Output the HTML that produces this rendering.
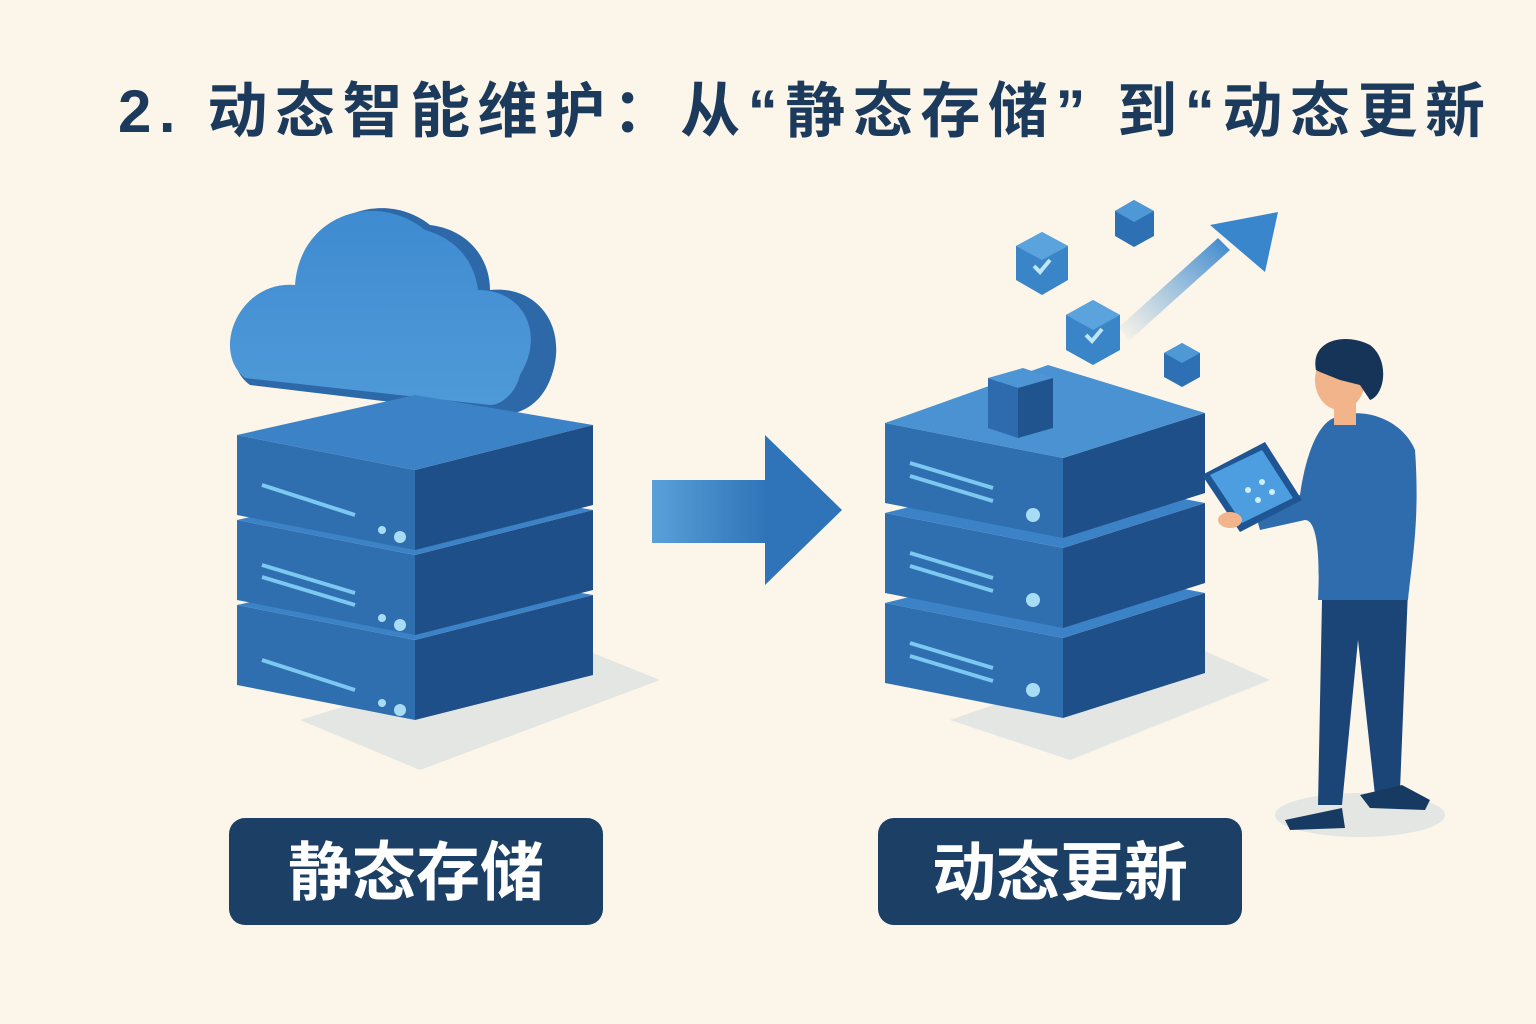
<!DOCTYPE html>
<html><head><meta charset="utf-8"><style>
html,body{margin:0;padding:0;background:#fcf5e9;}
svg{display:block}
text{font-family:"Liberation Sans","Noto Sans CJK SC",sans-serif;}
</style></head><body>
<svg width="1536" height="1024" viewBox="0 0 1536 1024" xmlns="http://www.w3.org/2000/svg">
<defs>
<linearGradient id="ag" x1="0" x2="1"><stop offset="0" stop-color="#5aa0d8"/><stop offset="1" stop-color="#2e74b8"/></linearGradient>
<linearGradient id="ug" x1="0" y1="1" x2="1" y2="0"><stop offset="0" stop-color="#5aa0d8" stop-opacity="0"/><stop offset="1" stop-color="#3a86cc"/></linearGradient>
<linearGradient id="cg" x1="0" y1="0" x2="0" y2="1"><stop offset="0" stop-color="#3f8bd0"/><stop offset="1" stop-color="#4e9ad8"/></linearGradient>
</defs>
<rect width="1536" height="1024" fill="#fcf5e9"/>
<text x="118" y="132" font-size="60" font-weight="bold" fill="#1b3a5c" textLength="1367" lengthAdjust="spacing">2. 动态智能维护：从“静态存储” 到“动态更新</text>

<!-- shadows -->
<polygon points="420,770 660,680 560,640 300,720" fill="#d9e0e0" opacity="0.7"/>
<polygon points="1070,760 1270,680 1180,640 950,720" fill="#d9e0e0" opacity="0.7"/>
<ellipse cx="1360" cy="815" rx="85" ry="22" fill="#e3e6e3"/>

<!-- cloud -->
<g>
<path d="M250,385 C215,360 240,290 300,290 C300,220 380,185 430,225 C470,230 490,260 490,290 C540,285 570,330 550,380 C540,405 520,415 500,415 Z" fill="#2d68a8"/>
<path d="M245,378 C210,350 240,280 295,285 C300,215 375,190 425,230 C460,240 475,265 478,290 C525,290 545,335 520,375 C515,395 500,405 490,405 Z" fill="url(#cg)"/>
</g>

<!-- left stack -->
<g id="stackL">
<g transform="translate(0,170)">
<polygon points="237,435 415,470 415,550 237,515" fill="#2f6fb0"/>
<polygon points="415,470 593,425 593,505 415,550" fill="#1f4f88"/>
<polygon points="237,435 415,395 593,425 415,470" fill="#3c82c6"/>
<line x1="262" y1="490" x2="355" y2="520" stroke="#7cc8f0" stroke-width="4"/>
<circle cx="382" cy="533" r="4" fill="#a8dcf5"/><circle cx="400" cy="540" r="6" fill="#a8dcf5"/>
</g>
<g transform="translate(0,85)">
<polygon points="237,435 415,470 415,550 237,515" fill="#2f6fb0"/>
<polygon points="415,470 593,425 593,505 415,550" fill="#1f4f88"/>
<polygon points="237,435 415,395 593,425 415,470" fill="#3c82c6"/>
<line x1="262" y1="480" x2="355" y2="508" stroke="#7cc8f0" stroke-width="4"/>
<line x1="262" y1="492" x2="355" y2="520" stroke="#7cc8f0" stroke-width="4"/>
<circle cx="382" cy="533" r="4" fill="#a8dcf5"/><circle cx="400" cy="540" r="6" fill="#a8dcf5"/>
</g>
<g>
<polygon points="237,435 415,470 415,550 237,515" fill="#2f6fb0"/>
<polygon points="415,470 593,425 593,505 415,550" fill="#1f4f88"/>
<polygon points="237,435 415,395 593,425 415,470" fill="#3c82c6"/>
<line x1="262" y1="485" x2="355" y2="515" stroke="#7cc8f0" stroke-width="4"/>
<circle cx="382" cy="530" r="4" fill="#a8dcf5"/><circle cx="400" cy="537" r="6" fill="#a8dcf5"/>
</g>
</g>

<!-- middle arrow -->
<rect x="652" y="480" width="115" height="63" fill="url(#ag)"/>
<polygon points="765,435 842,510 765,585" fill="#2f74b8"/>

<!-- right stack -->
<g transform="translate(648,-12)">
<g transform="translate(0,180)">
<polygon points="237,435 415,470 415,550 237,515" fill="#2f6fb0"/>
<polygon points="415,470 557,425 557,505 415,550" fill="#1f4f88"/>
<polygon points="237,435 400,395 557,425 415,470" fill="#3c82c6"/>
<line x1="262" y1="475" x2="345" y2="500" stroke="#7cc8f0" stroke-width="4"/>
<line x1="262" y1="488" x2="345" y2="513" stroke="#7cc8f0" stroke-width="4"/>
<circle cx="385" cy="522" r="7" fill="#a8dcf5"/>
</g>
<g transform="translate(0,90)">
<polygon points="237,435 415,470 415,550 237,515" fill="#2f6fb0"/>
<polygon points="415,470 557,425 557,505 415,550" fill="#1f4f88"/>
<polygon points="237,435 400,395 557,425 415,470" fill="#3c82c6"/>
<line x1="262" y1="475" x2="345" y2="500" stroke="#7cc8f0" stroke-width="4"/>
<line x1="262" y1="488" x2="345" y2="513" stroke="#7cc8f0" stroke-width="4"/>
<circle cx="385" cy="522" r="7" fill="#a8dcf5"/>
</g>
<g>
<polygon points="237,435 415,470 415,550 237,515" fill="#2f6fb0"/>
<polygon points="415,470 557,425 557,505 415,550" fill="#1f4f88"/>
<polygon points="237,435 400,377 557,425 415,470" fill="#4a92d2"/>
<line x1="262" y1="475" x2="345" y2="500" stroke="#7cc8f0" stroke-width="4"/>
<line x1="262" y1="488" x2="345" y2="513" stroke="#7cc8f0" stroke-width="4"/>
<circle cx="385" cy="527" r="7" fill="#a8dcf5"/>
<polygon points="340,390 375,380 405,390 370,400" fill="#4d95d4"/>
<polygon points="340,390 370,400 370,450 340,440" fill="#2d6aae"/>
<polygon points="370,400 405,390 405,440 370,450" fill="#1f548f"/>
</g>
</g>

<!-- floating cubes -->
<g>
<polygon points="1042,232 1068,246 1068,280 1042,295 1016,280 1016,246" fill="#3a84c8"/>
<polygon points="1016,246 1042,260 1068,246 1042,232" fill="#5aa3dc"/>
<path d="M1034,266 l6,6 l10,-12" stroke="#bfe6f8" stroke-width="4" fill="none"/>
<polygon points="1134,200 1154,211 1154,236 1134,247 1115,236 1115,211" fill="#2e70b4"/>
<polygon points="1115,211 1134,222 1154,211 1134,200" fill="#4f98d6"/>
<polygon points="1093,300 1120,315 1120,350 1093,365 1066,350 1066,315" fill="#3a84c8"/>
<polygon points="1066,315 1093,330 1120,315 1093,300" fill="#5aa3dc"/>
<path d="M1086,335 l6,6 l10,-12" stroke="#bfe6f8" stroke-width="4" fill="none"/>
<polygon points="1182,343 1200,353 1200,377 1182,387 1164,377 1164,353" fill="#2e70b4"/>
<polygon points="1164,353 1182,363 1200,353 1182,343" fill="#4f98d6"/>
</g>
<!-- up arrow -->
<polygon points="1130,340 1230,250 1218,238 1118,328" fill="url(#ug)"/>
<polygon points="1210,225 1278,212 1265,272" fill="#3a86cc"/>

<!-- person -->
<g>
<path d="M1322,600 L1318,805 L1342,805 L1358,640 L1375,795 L1400,790 L1408,590 Z" fill="#1c4577"/>
<path d="M1285,820 L1342,808 L1345,828 L1290,830 Z" fill="#173a62"/>
<path d="M1360,795 L1402,785 L1430,800 L1425,810 L1370,808 Z" fill="#173a62"/>
<path d="M1330,420 C1355,405 1400,415 1415,450 C1420,520 1412,560 1408,600 L1318,600 C1320,560 1318,520 1305,520 L1260,530 L1255,512 L1300,495 C1305,460 1315,430 1330,420 Z" fill="#2f6cae"/>
<rect x="1334" y="395" width="22" height="30" fill="#f2b48a"/>
<ellipse cx="1340" cy="380" rx="25" ry="30" fill="#f2b48a"/>
<path d="M1316,370 C1310,340 1345,332 1370,345 C1390,360 1385,395 1370,400 L1360,385 L1340,380 L1320,372 Z" fill="#163457"/>
<polygon points="1202,475 1265,442 1302,500 1240,532" fill="#1f5592"/>
<polygon points="1210,475 1262,450 1293,498 1242,523" fill="#4d9ee0"/>
<circle cx="1248" cy="490" r="3" fill="#cfeeff"/><circle cx="1262" cy="482" r="3" fill="#cfeeff"/><circle cx="1258" cy="500" r="3" fill="#cfeeff"/><circle cx="1272" cy="492" r="3" fill="#cfeeff"/>
<ellipse cx="1230" cy="520" rx="12" ry="8" fill="#f2b48a"/>
</g>

<!-- labels -->
<rect x="229" y="818" width="374" height="107" rx="16" fill="#1c3f66"/>
<text x="416" y="895" font-size="64" font-weight="bold" fill="#ffffff" text-anchor="middle">静态存储</text>
<rect x="878" y="818" width="364" height="107" rx="16" fill="#1c3f66"/>
<text x="1060" y="895" font-size="64" font-weight="bold" fill="#ffffff" text-anchor="middle">动态更新</text>
</svg>
</body></html>
